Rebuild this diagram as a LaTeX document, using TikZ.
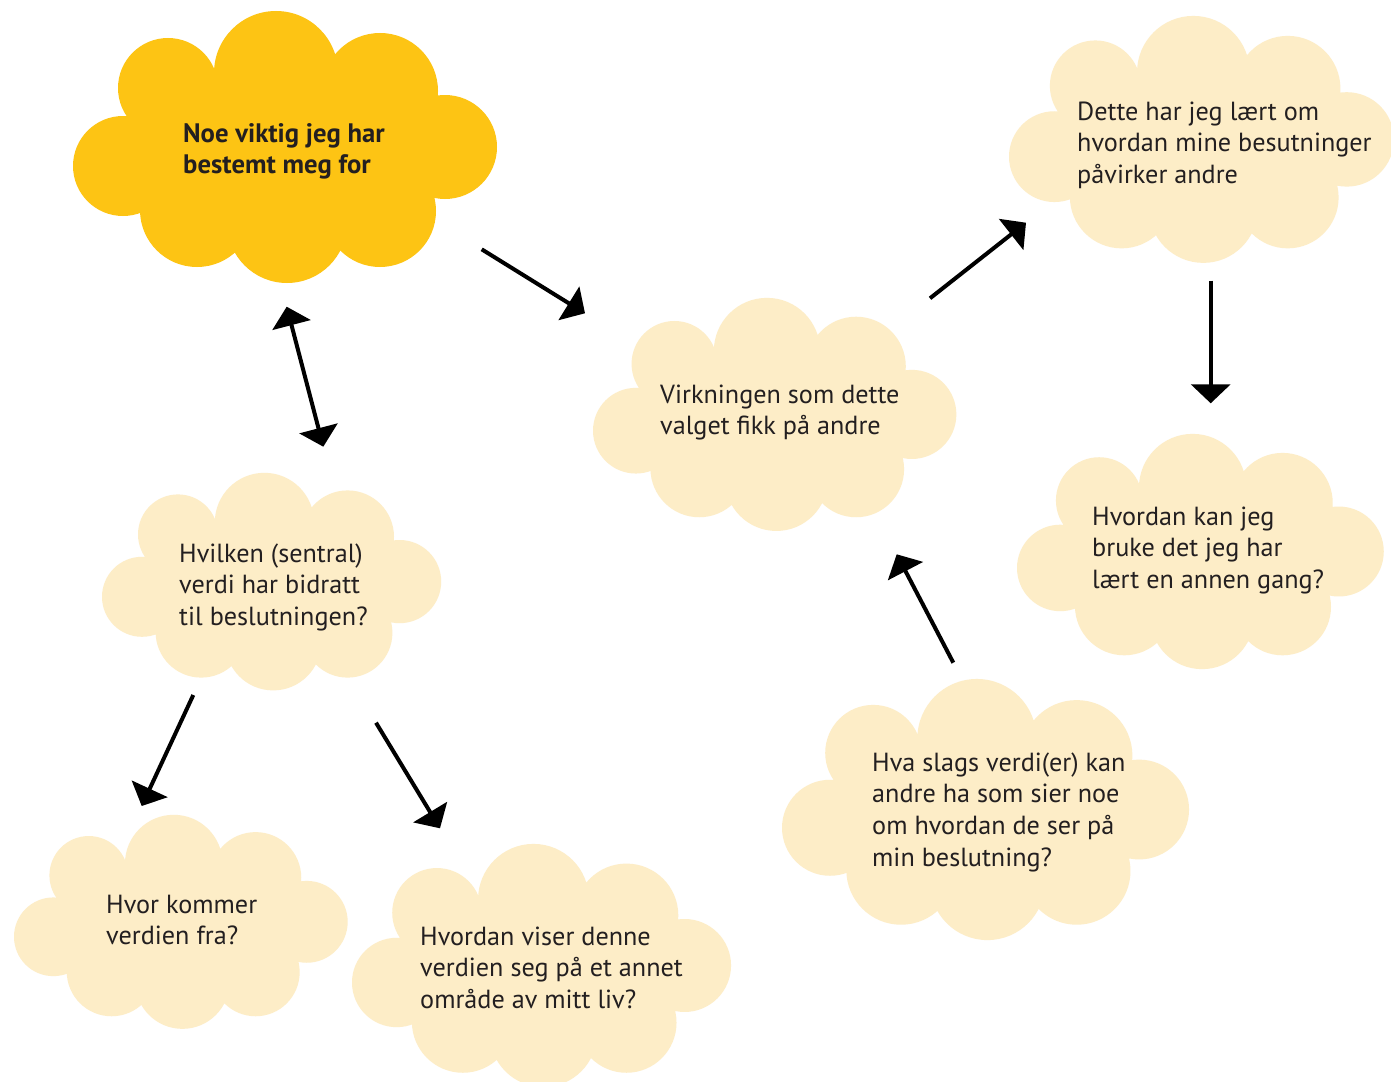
\documentclass[tikz,border=0pt]{standalone}
\usepackage{fontspec}
\setmainfont{PT Sans}
\usetikzlibrary{arrows.meta}
\definecolor{cloudyellow}{RGB}{253,196,20}
\definecolor{cloudlight}{RGB}{253,237,199}
\definecolor{inkgray}{RGB}{35,31,32}
\newcommand{\mycloud}[4]{%
\begin{scope}[shift={(#1,#2)},scale=#3]
\fill[#4] (50,156) circle[radius=50] (95,78) circle[radius=50] (203,63) circle[radius=62]
  (307,81) circle[radius=58] (372,137) circle[radius=52] (307,201) circle[radius=56]
  (214,213) circle[radius=60] (124,200) circle[radius=57];
\fill[#4] (50,156) -- (95,78) -- (203,63) -- (307,81) -- (372,137) -- (307,201) -- (214,213) -- (124,200) -- cycle;
\end{scope}}
\newcommand{\cloudtext}[1]{\parbox[t]{500pt}{\raggedright #1}}
\tikzset{
  lbl/.style={anchor=base west, inner sep=0pt, text=inkgray, font=\fontsize{26.2}{31.7}\selectfont},
  lblbold/.style={lbl, font=\fontsize{26.7}{31.2}\selectfont\bfseries},
  arr/.style={line width=4pt, -{Triangle[length=19pt,width=39pt]}},
  darr/.style={line width=4pt, {Triangle[length=19pt,width=39pt]}-{Triangle[length=19pt,width=39pt]}}
}
\begin{document}
\begin{tikzpicture}[x=1pt,y=-1pt]
\useasboundingbox[fill=white] (0,0) rectangle (1391,1081);
\clip (0,0) rectangle (1391,1081);
% clouds
\mycloud{73}{10}{1}{cloudyellow}
\mycloud{1009}{15}{0.908}{cloudlight}
\mycloud{593}{297}{0.857}{cloudlight}
\mycloud{1017}{433}{0.865}{cloudlight}
\mycloud{102}{472}{0.80}{cloudlight}
\mycloud{782}{678}{0.96}{cloudlight}
\mycloud{14}{814}{0.787}{cloudlight}
\mycloud{352}{843}{0.894}{cloudlight}
% texts
\node[lblbold] (noe) at (183,142) {\cloudtext{Noe viktig jeg har\\bestemt meg for}};
\node[lbl] (dette) at (1077,120) {\cloudtext{Dette har jeg lært om\\hvordan mine besutninger\\påvirker andre}};
\node[lbl] (virk) at (660,403) {\cloudtext{Virkningen som dette\\valget fikk på andre}};
\node[lbl] (kan) at (1092,525) {\cloudtext{Hvordan kan jeg\\bruke det jeg har\\lært en annen gang?}};
\node[lbl] (hvilken) at (179,562) {\cloudtext{Hvilken (sentral)\\verdi har bidratt\\til beslutningen?}};
\node[lbl] (slags) at (872,771) {\cloudtext{Hva slags verdi(er) kan\\andre ha som sier noe\\om hvordan de ser på\\min beslutning?}};
\node[lbl] (kommer) at (106,913) {\cloudtext{Hvor kommer\\verdien fra?}};
\node[lbl] (viser) at (420,945) {\cloudtext{Hvordan viser denne\\verdien seg på et annet\\område av mitt liv?}};
% connector end points
\coordinate (a1s) at (481.7,249.3); \coordinate (a1e) at (585,313.3);
\coordinate (a2s) at (930,298.3);   \coordinate (a2e) at (1026,222.7);
\coordinate (a3s) at (1210.7,280.7); \coordinate (a3e) at (1210.7,403.3);
\coordinate (a4s) at (953.3,662.7); \coordinate (a4e) at (896.7,554.3);
\coordinate (a5s) at (286.7,306.7); \coordinate (a5e) at (323.3,446.7);
\coordinate (a6s) at (193.3,695);   \coordinate (a6e) at (141.7,806);
\coordinate (a7s) at (376,722.7);   \coordinate (a7e) at (440,828.3);
\draw[arr] (a1s) -- (a1e);
\draw[arr] (a2s) -- (a2e);
\draw[arr] (a3s) -- (a3e);
\draw[arr] (a4s) -- (a4e);
\draw[darr] (a5s) -- (a5e);
\draw[arr] (a6s) -- (a6e);
\draw[arr] (a7s) -- (a7e);
\end{tikzpicture}
\end{document}
